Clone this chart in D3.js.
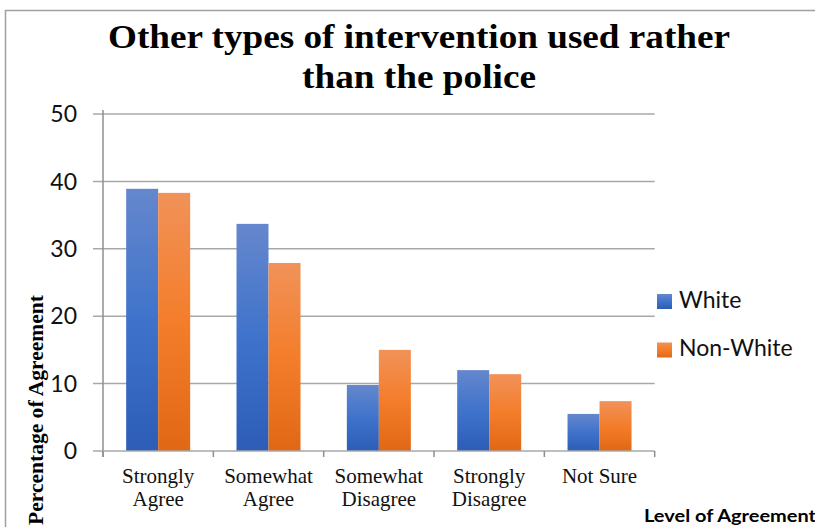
<!DOCTYPE html>
<html>
<head>
<meta charset="utf-8">
<script src="https://cdn.jsdelivr.net/npm/d3@7"></script>
<style>
  html, body { margin: 0; padding: 0; background: #fff; }
  svg { display: block; }
</style>
</head>
<body>
<svg id="chart" width="815" height="527"></svg>
<script>
// Survey responses: share of respondents (%) at each level of agreement
const categories = [
  ["Strongly", "Agree"],
  ["Somewhat", "Agree"],
  ["Somewhat", "Disagree"],
  ["Strongly", "Disagree"],
  ["Not Sure"]
];
const seriesNames = ["White", "Non-White"];
const whiteValues = [38.9, 33.7, 9.8, 12.0, 5.5];
const nonWhiteValues = [38.3, 27.9, 15.0, 11.4, 7.4];
const yTicks = [0, 10, 20, 30, 40, 50];

const svg = d3.select("#chart");
const W = 815, H = 527;
const plot = { left: 103, right: 654.7, top: 114, bottom: 451 };

// Gradient fills for the two series
const defs = svg.append("defs");
function grad(id, stops) {
  const g = defs.append("linearGradient").attr("id", id)
    .attr("x1", 0).attr("y1", 0).attr("x2", 0).attr("y2", 1);
  stops.forEach(([o, c]) => g.append("stop").attr("offset", o).attr("stop-color", c));
}
grad("gWhite", [[0, "#6587cd"], [0.5, "#3f73cb"], [1, "#2d5db6"]]);
grad("gNon", [[0, "#f19259"], [0.5, "#f47d2b"], [1, "#e06815"]]);
const fills = ["url(#gWhite)", "url(#gNon)"];

// Frame
svg.append("line").attr("x1", 5).attr("x2", W).attr("y1", 10.5).attr("y2", 10.5)
  .attr("stroke", "#a0a0a0").attr("stroke-width", 1.5);
svg.append("line").attr("x1", 5.5).attr("x2", 5.5).attr("y1", 10).attr("y2", H)
  .attr("stroke", "#a0a0a0").attr("stroke-width", 1.5);

// Scales
const x0 = d3.scaleBand().domain(d3.range(categories.length))
  .range([plot.left, plot.right]).paddingInner(0.42).paddingOuter(0.21);
const x1 = d3.scaleBand().domain(seriesNames).range([0, x0.bandwidth()]);
const y = d3.scaleLinear().domain([0, 50]).range([plot.bottom, plot.top]);

// Gridlines and y tick marks
svg.append("g").selectAll("line").data(yTicks.filter(d => d > 0)).join("line")
  .attr("x1", plot.left - 10).attr("x2", plot.right)
  .attr("y1", d => y(d)).attr("y2", d => y(d))
  .attr("stroke", "#a8a8a8").attr("stroke-width", 1.5);

// Y tick labels
svg.append("g").selectAll("text").data(yTicks).join("text")
  .attr("x", 77).attr("y", d => y(d)).attr("dy", "0.36em")
  .attr("text-anchor", "end")
  .attr("font-family", "Lato, 'Open Sans', sans-serif").attr("font-size", 23)
  .attr("fill", "#111").text(d => d);

// Bars
const data = categories.map((c, i) => ({ i, vals: [whiteValues[i], nonWhiteValues[i]] }));
const groups = svg.append("g").selectAll("g").data(data).join("g")
  .attr("transform", d => `translate(${x0(d.i)},0)`);
groups.selectAll("rect")
  .data(d => d.vals.map((v, k) => ({ v, k })))
  .join("rect")
  .attr("x", d => x1(seriesNames[d.k]))
  .attr("width", x1.bandwidth())
  .attr("y", d => y(d.v))
  .attr("height", d => y(0) - y(d.v))
  .attr("fill", d => fills[d.k]);

// Axes lines
svg.append("line").attr("x1", plot.left).attr("x2", plot.left)
  .attr("y1", plot.top - 4).attr("y2", plot.bottom + 6)
  .attr("stroke", "#8f8f8f").attr("stroke-width", 1.5);
svg.append("line").attr("x1", plot.left - 10).attr("x2", plot.right)
  .attr("y1", plot.bottom).attr("y2", plot.bottom)
  .attr("stroke", "#a8a8a8").attr("stroke-width", 1.5);
const step = x0.step();
svg.append("g").selectAll("line").data(d3.range(categories.length + 1)).join("line")
  .attr("x1", d => plot.left + d * step).attr("x2", d => plot.left + d * step)
  .attr("y1", plot.bottom).attr("y2", plot.bottom + 6)
  .attr("stroke", "#8f8f8f").attr("stroke-width", 1.5);

// Category labels
const catG = svg.append("g").selectAll("text").data(data).join("text")
  .attr("text-anchor", "middle")
  .attr("font-family", "'Liberation Serif', 'Times New Roman', serif")
  .attr("font-size", 21).attr("fill", "#111");
catG.each(function(d) {
  const t = d3.select(this);
  const cx = x0(d.i) + x0.bandwidth() / 2;
  categories[d.i].forEach((line, j) => {
    t.append("tspan").attr("x", cx).attr("y", 483 + j * 23).text(line);
  });
});

// Title
const title = ["Other types of intervention used rather", "than the police"];
const titleLens = [622, 234];
svg.append("g").selectAll("text").data(title).join("text")
  .attr("x", 419).attr("y", (d, i) => 48 + i * 40)
  .attr("text-anchor", "middle")
  .attr("font-family", "'Liberation Serif', 'Times New Roman', serif")
  .attr("font-weight", "bold").attr("font-size", 33).attr("fill", "#000")
  .attr("textLength", (d, i) => titleLens[i]).attr("lengthAdjust", "spacingAndGlyphs")
  .text(d => d);

// Y axis title
svg.append("text")
  .attr("transform", "translate(43,410) rotate(-90)")
  .attr("text-anchor", "middle")
  .attr("font-family", "'Liberation Serif', 'Times New Roman', serif")
  .attr("font-weight", "bold").attr("font-size", 20).attr("fill", "#000")
  .attr("textLength", 230).attr("lengthAdjust", "spacingAndGlyphs")
  .text("Percentage of Agreement");

// X axis title
svg.append("text")
  .attr("x", 644).attr("y", 522)
  .attr("font-family", "Lato, 'Open Sans', sans-serif")
  .attr("font-weight", "bold").attr("font-size", 16.5).attr("fill", "#000")
  .attr("textLength", 172).attr("lengthAdjust", "spacingAndGlyphs")
  .text("Level of Agreement");

// Legend
const legend = svg.append("g").selectAll("g").data(seriesNames).join("g")
  .attr("transform", (d, i) => `translate(657,${294 + i * 48.5})`);
legend.append("rect").attr("width", 15).attr("height", 15)
  .attr("fill", (d, i) => fills[i]);
legend.append("text").attr("x", 22).attr("y", 13.5)
  .attr("font-family", "Lato, 'Open Sans', sans-serif").attr("font-size", 23)
  .attr("fill", "#111").text(d => d);
</script>
</body>
</html>
